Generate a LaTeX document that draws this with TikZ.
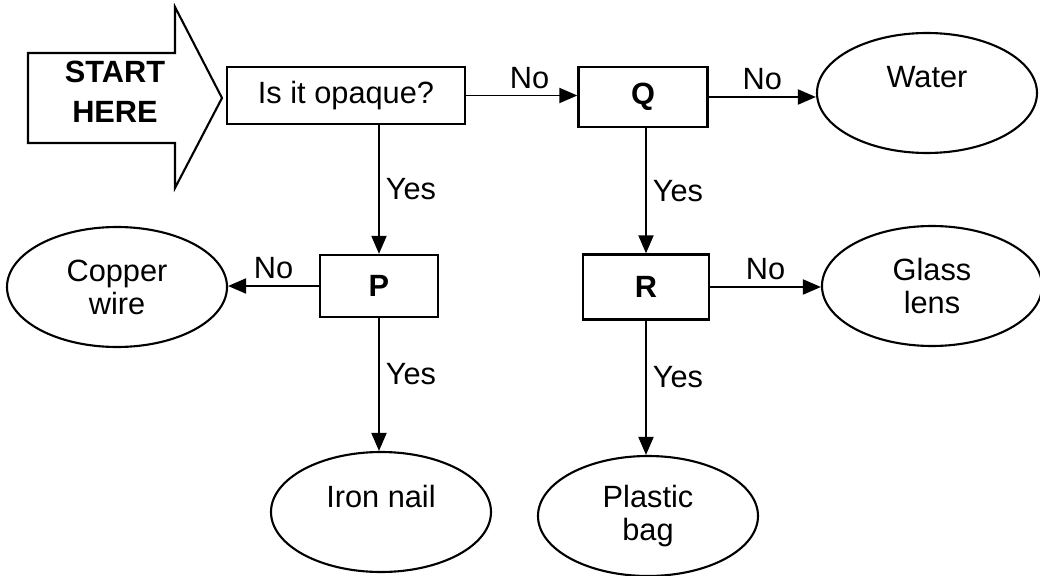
\documentclass[tikz,border=0pt]{standalone}
\usepackage{fontspec}
\setmainfont{Liberation Sans}
\usepackage{tikz}
\usetikzlibrary{arrows.meta,positioning,shapes.geometric}
\tikzset{
  qbox/.style={draw,line width=1.3pt,align=center,inner sep=2pt},
  lttr/.style={qbox,font=\bfseries\fontsize{17.5}{20}\selectfont},
  leaf/.style={ellipse,draw,line width=1.2pt,align=center,inner sep=0pt,
               minimum width=4.4cm,minimum height=2.4cm,
               font=\fontsize{17.5}{18.7}\selectfont},
  arr/.style={-{Triangle[length=3.6mm,width=3mm]},line width=1.1pt},
}

\begin{document}
\begin{tikzpicture}[x=1cm,y=1cm,font=\fontsize{17.5}{20}\selectfont]
  \useasboundingbox (0,0) rectangle (20.8,-11.52);
  % start arrow
  \node[font=\bfseries\fontsize{17.5}{22.7}\selectfont,align=center] (start) at (2.3,-1.84) {START\\HERE};
  \draw[line width=1.2pt] (0.56,-1.06) -- (3.5,-1.06) -- (3.5,-0.14) -- (4.44,-1.96)
    -- (3.5,-3.76) -- (3.5,-2.86) -- (0.56,-2.86) -- cycle;
  % questions
  \node[qbox,minimum width=4.76cm,minimum height=1.14cm] (opq) at (6.92,-1.91) {Is it opaque?};
  \node[lttr,minimum width=2.58cm,minimum height=1.2cm] (Q) at (12.86,-1.94) {Q};
  \node[lttr,minimum width=2.36cm,minimum height=1.24cm] (P) at (7.58,-5.72) {P};
  \node[lttr,minimum width=2.52cm,minimum height=1.3cm] (R) at (12.92,-5.74) {R};
  % answers
  \node[leaf,label={[yshift=0.32cm]center:Water}] (water) at (18.54,-1.86) {};
  \node[leaf] (copper) at (2.34,-5.74) {Copper\\wire};
  \node[leaf] (glass) at (18.64,-5.72) {Glass\\lens};
  \node[leaf,label={[yshift=0.3cm]center:Iron nail}] (iron) at (7.62,-10.24) {};
  \node[leaf] (plastic) at (12.96,-10.32) {Plastic\\bag};
  % links
  \draw[arr] (opq.east) -- node[above,pos=0.57]{No} (opq.east -| Q.west);
  \draw[arr] (Q.east) -- node[above]{No} (Q.east -| water.west);
  \draw[arr] (opq.south -| P.north) -- node[right]{Yes} (P.north);
  \draw[arr] (Q.south -| R.north) -- node[right]{Yes} (R.north);
  \draw[arr] (P.west) -- node[above]{No} (P.west -| copper.east);
  \draw[arr] (R.east) -- node[above]{No} (R.east -| glass.west);
  \draw[arr] (P.south) -- node[right,pos=0.42]{Yes} (P.south |- iron.north);
  \draw[arr] (R.south) -- node[right,pos=0.42]{Yes} (R.south |- plastic.north);
\end{tikzpicture}
\end{document}
